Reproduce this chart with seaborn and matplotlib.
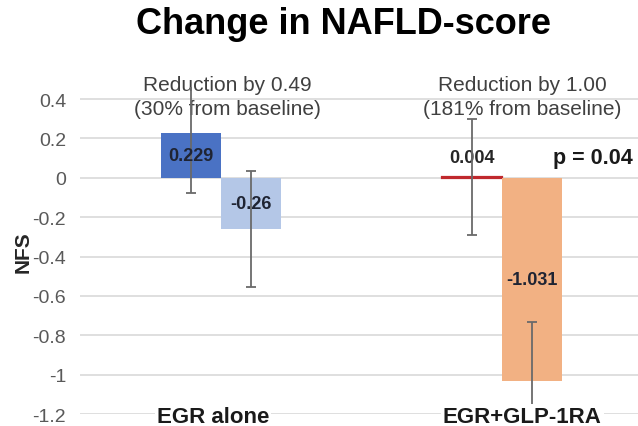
import matplotlib
matplotlib.use("Agg")
import matplotlib.pyplot as plt
from matplotlib.container import BarContainer
import seaborn as sns
import pandas as pd

# Data
groups = ["EGR alone", "EGR alone", "EGR+GLP-1RA", "EGR+GLP-1RA"]
periods = ["Period 1", "Period 2", "Period 1", "Period 2"]
nfs_change = [0.229, -0.26, 0.004, -1.031]
nfs_error = [0.305, 0.296, 0.295, 0.297]
value_labels = ["0.229", "-0.26", "0.004", "-1.031"]
bar_colors = ["#4A72C4", "#B4C7E7", "#C0282D", "#F2B183"]
y_ticks = [0.4, 0.2, 0, -0.2, -0.4, -0.6, -0.8, -1, -1.2]
y_tick_labels = ["0.4", "0.2", "0", "-0.2", "-0.4", "-0.6", "-0.8", "-1", "-1.2"]
group_notes = ["Reduction by 0.49\n(30% from baseline)",
               "Reduction by 1.00\n(181% from baseline)"]
p_value_text = "p = 0.04"

df = pd.DataFrame({"group": groups, "period": periods,
                   "nfs": nfs_change, "err": nfs_error,
                   "label": value_labels, "color": bar_colors})

sns.set_theme(style="white")
plt.rcParams["font.family"] = ["Liberation Sans", "DejaVu Sans"]

fig = plt.figure(figsize=(6.38, 4.27), dpi=100)
ax = fig.add_axes([0.1254, 0.028, 0.8746, 0.7653])

sns.barplot(data=df, x="group", y="nfs", hue="period", width=0.426,
            dodge=True, legend=False, ax=ax, errorbar=None, saturation=1)

group_order = list(dict.fromkeys(groups))
period_order = list(dict.fromkeys(periods))
bar_containers = [c for c in ax.containers if isinstance(c, BarContainer)]
for j, container in enumerate(bar_containers):
    for i, patch in enumerate(container.patches):
        row = df[(df.group == group_order[i]) & (df.period == period_order[j])].iloc[0]
        patch.set_facecolor(row.color)
        cx = patch.get_x() + patch.get_width() / 2
        if abs(row.nfs) < 0.02:
            patch.set_edgecolor(row.color)
            patch.set_linewidth(1.6)
            ax.annotate(row.label, (cx, row.nfs), xytext=(0, 8),
                        textcoords="offset points", ha="center", va="bottom",
                        fontsize=13, fontweight="bold", color="#262626")
        else:
            patch.set_linewidth(0)
            ax.text(cx, row.nfs / 2, row.label, ha="center", va="center",
                    fontsize=13, fontweight="bold", color="#1F2433", zorder=5)
        ax.errorbar(cx, row.nfs, yerr=row.err, fmt="none", ecolor="#6A6A6A",
                    elinewidth=1.3, capsize=3.3, capthick=1.3, zorder=4)

ax.set_ylim(-1.2, 0.46)
ax.set_xlim(-0.5, 1.483)
ax.set_yticks(y_ticks)
ax.set_yticklabels(y_tick_labels, fontsize=14, color="#595959")
ax.tick_params(axis="y", length=0, pad=10)
ax.set_xticks([])
ax.set_xlabel("")
ax.set_ylabel("NFS", fontsize=15, fontweight="bold", color="#262626", labelpad=0)
ax.yaxis.grid(True, color="#D9D9D9", linewidth=1.2)
ax.set_axisbelow(True)
for s in ax.spines.values():
    s.set_visible(False)

# Category names sit on the bottom gridline
label_shift = [-0.027, 0.072]
for i, name in enumerate(group_order):
    ax.text(i + label_shift[i], -1.21, name, ha="center", va="center",
            fontsize=16, fontweight="bold", color="#1a1a1a", zorder=6,
            bbox=dict(facecolor="white", edgecolor="none", pad=1.5), clip_on=False)

note_shift = [0.023, 0.071]
for i, note in enumerate(group_notes):
    ax.text(i + note_shift[i], 0.413, note, ha="center", va="center",
            fontsize=15, color="#404040", linespacing=1.3, zorder=3)

ax.text(1.322, 0.105, p_value_text, ha="center", va="center",
        fontsize=15.5, fontweight="bold", color="#1a1a1a")

fig.text(0.539, 1 - 25 / 427, "Change in NAFLD-score", ha="center", va="center",
         fontsize=26, fontweight="bold", color="black")

fig.savefig("out.png", dpi=100)
